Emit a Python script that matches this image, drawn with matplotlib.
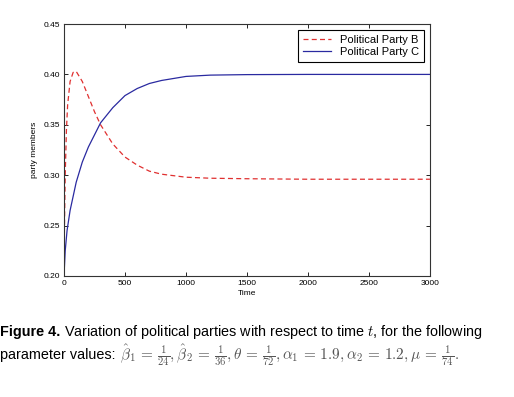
import matplotlib
matplotlib.use('Agg')
import matplotlib.pyplot as plt

plt.rcParams['font.family'] = ['Liberation Sans', 'DejaVu Sans']
plt.rcParams['mathtext.fontset'] = 'cm'
plt.rcParams['xtick.direction'] = 'in'
plt.rcParams['ytick.direction'] = 'in'
plt.rcParams['xtick.labelsize'] = 6
plt.rcParams['ytick.labelsize'] = 6

# values
time_b = [0, 5, 10, 20, 30, 50, 75, 100, 150, 200, 250, 300, 400, 500,
          600, 700, 800, 1000, 1200, 1500, 2000, 3000]
party_b = [0.210, 0.260, 0.300, 0.345, 0.370, 0.393, 0.402, 0.403, 0.393,
           0.378, 0.363, 0.350, 0.331, 0.318, 0.310, 0.304, 0.301, 0.298,
           0.297, 0.2965, 0.296, 0.296]

time_c = [0, 10, 25, 50, 100, 150, 200, 300, 400, 500, 600, 700, 800,
          1000, 1200, 1500, 2000, 3000]
party_c = [0.200, 0.225, 0.245, 0.265, 0.293, 0.313, 0.328, 0.352, 0.367,
           0.379, 0.386, 0.391, 0.394, 0.398, 0.3993, 0.3998, 0.400, 0.400]

xticks = [0, 500, 1000, 1500, 2000, 2500, 3000]
yticks = [0.20, 0.25, 0.30, 0.35, 0.40, 0.45]

fig = plt.figure(figsize=(5.14, 3.97), dpi=100)
ax = fig.add_axes([0.1245, 0.3048, 0.712, 0.6347])

ax.plot(time_b, party_b, '--', color='#e03030', lw=0.9, dashes=(4, 2.6),
        label='Political Party B')
ax.plot(time_c, party_c, '-', color='#2a2aa0', lw=0.9, label='Political Party C')

ax.set_xlim(0, 3000)
ax.set_ylim(0.20, 0.45)
ax.set_xticks(xticks)
ax.set_yticks(yticks)
ax.set_yticklabels(['%.2f' % v for v in yticks])
ax.xaxis.set_ticks_position('both')
ax.yaxis.set_ticks_position('both')
ax.tick_params(length=3, width=0.6, pad=3)
for s in ax.spines.values():
    s.set_linewidth(0.8)
    s.set_color('#333333')

ax.set_xlabel('Time', fontsize=6, labelpad=2)
ax.set_ylabel('party members', fontsize=6, labelpad=4)

leg = ax.legend(loc='upper right', fontsize=8, fancybox=False, handlelength=2.6,
                borderpad=0.45, labelspacing=0.25, framealpha=1)
leg.get_frame().set_edgecolor('black')
leg.get_frame().set_linewidth(0.8)

# caption
fig.canvas.draw()
r = fig.canvas.get_renderer()
t1 = fig.text(0.0, 1 - 336 / 397, 'Figure 4.', fontsize=10.4, fontweight='bold')
x1 = t1.get_window_extent(r).x1 / fig.bbox.width
fig.text(x1 + 0.007, 1 - 336 / 397,
         'Variation of political parties with respect to time $t$, for the following',
         fontsize=10.4)
t3 = fig.text(0.0, 1 - 359 / 397, 'parameter values:', fontsize=10.4)
x3 = t3.get_window_extent(r).x1 / fig.bbox.width
fig.text(x3 + 0.008, 1 - 359 / 397,
         r'$\hat{\beta}_1\,=\,\frac{1}{24},\hat{\beta}_2\,=\,\frac{1}{36},\theta\,=\,\frac{1}{72},'
         r'\alpha_1\,=\,1.9,\alpha_2\,=\,1.2,\mu\,=\,\frac{1}{74}.$',
         fontsize=11, color='#555555')

fig.savefig('out.png', dpi=100)
